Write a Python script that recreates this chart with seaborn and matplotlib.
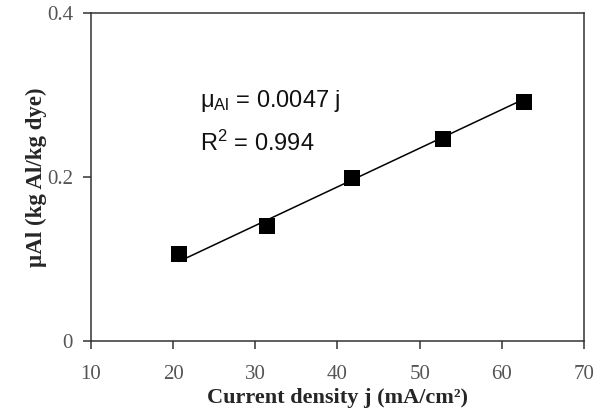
import matplotlib
matplotlib.use("Agg")
import matplotlib.pyplot as plt
import seaborn as sns
import pandas as pd

# data
current_density = [20.7, 31.4, 41.8, 52.9, 62.7]
mu_al = [0.106, 0.140, 0.199, 0.246, 0.291]
fit_j = [20.7, 62.7]
fit_mu = [0.097, 0.295]
x_ticks = [10, 20, 30, 40, 50, 60, 70]
y_ticks = [0, 0.2, 0.4]
y_tick_labels = ["0", "0.2", "0.4"]

sns.set_style("ticks")
df = pd.DataFrame({"j": current_density, "mu": mu_al})
fit = pd.DataFrame({"j": fit_j, "mu": fit_mu})

fig = plt.figure(figsize=(5.97, 4.12), dpi=100)
ax = fig.add_axes([0.1524, 0.1723, 0.8258, 0.7961])

sns.lineplot(data=fit, x="j", y="mu", ax=ax, color="black", linewidth=1.1)
sns.scatterplot(data=df, x="j", y="mu", ax=ax, marker="s", s=120,
                color="black", edgecolor="black", linewidth=0, zorder=3)

ax.set_xlim(10, 70)
ax.set_ylim(0, 0.4)
ax.set_xticks(x_ticks)
ax.set_yticks(y_ticks)
ax.set_yticklabels(y_tick_labels)
for lbl in ax.get_xticklabels() + ax.get_yticklabels():
    lbl.set_family("Liberation Serif")
    lbl.set_fontsize(15)
    lbl.set_color("#555555")
ax.tick_params(direction="out", length=6, width=1.1, color="#333333")
ax.tick_params(axis="x", pad=11)
ax.tick_params(axis="y", pad=7)
for s in ax.spines.values():
    s.set_visible(True)
    s.set_linewidth(1.1)
    s.set_color("#333333")

ax.set_xlabel("Current density j (mA/cm²)", family="Liberation Serif",
              fontweight="bold", fontsize=16, labelpad=3.5)
ax.set_ylabel("µAl (kg Al/kg dye)", family="Liberation Serif",
              fontweight="bold", fontsize=16.5, labelpad=0)

ax.text(23.3, 0.293, r"$\mathregular{\mu_{Al}}$ = 0.0047 j", family="Liberation Sans",
        fontsize=17, color="#111111", va="center")
ax.text(23.3, 0.241, r"R$\mathregular{^2}$ = 0.994", family="Liberation Sans",
        fontsize=17, color="#111111", va="center")

fig.savefig("out.png", dpi=100)
